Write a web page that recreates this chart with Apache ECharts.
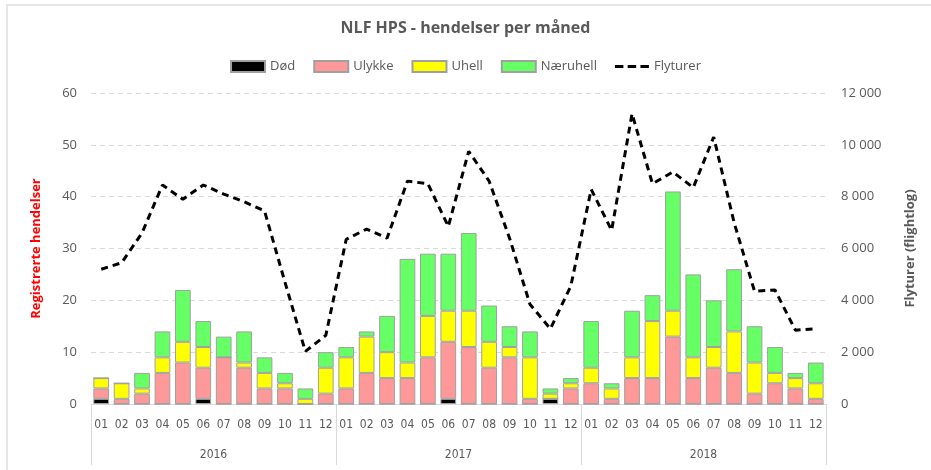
<!DOCTYPE html>
<html lang="no">
<head>
    <meta charset="UTF-8">
    <title>NLF HPS - hendelser per måned</title>
    <script src="https://cdn.jsdelivr.net/npm/echarts@6.0.0/dist/echarts.min.js"></script>
    <style>
        body { margin: 0; background: #fff; overflow: hidden; }
        #frame {
            position: absolute; left: 6px; top: 4px;
            width: 1000px; height: 600px;
            border-left: 2px solid #e6e6e6; border-top: 2px solid #e6e6e6;
        }
        #chart { position: absolute; left: 0; top: 0; width: 931px; height: 470px; }
    </style>
</head>
<body>
    <div id="frame"></div>
    <div id="chart"></div>
    <script>
        // kategorier
        var months = ['01', '02', '03', '04', '05', '06', '07', '08', '09', '10', '11', '12',
                      '01', '02', '03', '04', '05', '06', '07', '08', '09', '10', '11', '12',
                      '01', '02', '03', '04', '05', '06', '07', '08', '09', '10', '11', '12'];
        var years = ['2016', '2017', '2018'];

        // hendelser per måned
        var dod = [1, 0, 0, 0, 0, 1, 0, 0, 0, 0, 0, 0,
                   0, 0, 0, 0, 0, 1, 0, 0, 0, 0, 1, 0,
                   0, 0, 0, 0, 0, 0, 0, 0, 0, 0, 0, 0];
        var ulykke = [2, 1, 2, 6, 8, 6, 9, 7, 3, 3, 0, 2,
                      3, 6, 5, 5, 9, 11, 11, 7, 9, 1, 0, 3,
                      4, 1, 5, 5, 13, 5, 7, 6, 2, 4, 3, 1];
        var uhell = [2, 3, 1, 3, 4, 4, 0, 1, 3, 1, 1, 5,
                     6, 7, 5, 3, 8, 6, 7, 5, 2, 8, 1, 1,
                     3, 2, 4, 11, 5, 4, 4, 8, 6, 2, 2, 3];
        var naeruhell = [0, 0, 3, 5, 10, 5, 4, 6, 3, 2, 2, 3,
                         2, 1, 7, 20, 12, 11, 15, 7, 4, 5, 1, 1,
                         9, 1, 9, 5, 23, 16, 9, 12, 7, 5, 1, 4];

        // flyturer (flightlog)
        var flyturer = [5200, 5450, 6600, 8450, 7900, 8450, 8100, 7800, 7450, 4700, 2030, 2650,
                        6350, 6750, 6400, 8600, 8500, 6850, 9750, 8600, 6400, 3850, 2900, 4550,
                        8280, 6700, 11200, 8500, 8950, 8350, 10300, 7000, 4350, 4400, 2850, 2900];

        var grey = '#595959';
        var font = "'Open Sans', 'Liberation Sans', sans-serif";
        var narrow = "'Liberation Sans Narrow', 'DejaVu Sans Condensed', sans-serif";

        function barSeries(name, data, color) {
            return {
                name: name,
                type: 'bar',
                stack: 'hendelser',
                data: data,
                barCategoryGap: '23%',
                itemStyle: { color: color, borderColor: '#a0a0a0', borderWidth: 1 }
            };
        }

        var chart = echarts.init(document.getElementById('chart'));
        chart.setOption({
            animation: false,
            textStyle: { fontFamily: font },
            title: {
                text: 'NLF HPS - hendelser per måned',
                left: 'center',
                top: 15,
                textStyle: { fontSize: 16, fontWeight: 'bold', color: grey, fontFamily: font }
            },
            legend: {
                top: 55,
                left: 'center',
                itemWidth: 34,
                itemHeight: 11,
                itemGap: 18,
                textStyle: { fontSize: 13, color: grey },
                data: [
                    { name: 'Død', icon: 'rect' },
                    { name: 'Ulykke', icon: 'rect' },
                    { name: 'Uhell', icon: 'rect' },
                    { name: 'Næruhell', icon: 'rect' },
                    { name: 'Flyturer', icon: 'path://M0,0h8v3h-8z M12,0h8v3h-8z M24,0h8v3h-8z',
                      itemStyle: { color: '#000000', borderWidth: 0 } }
                ]
            },
            grid: { left: 91, right: 105, top: 93, bottom: 66 },
            xAxis: [
                {
                    type: 'category',
                    data: months,
                    axisLine: { lineStyle: { color: '#d9d9d9' } },
                    axisTick: { show: false },
                    axisLabel: { interval: 0, margin: 15, fontSize: 12, color: grey, fontFamily: narrow }
                },
                {
                    type: 'category',
                    data: years,
                    position: 'bottom',
                    axisLine: { show: false },
                    axisTick: { show: true, length: 61, interval: 0, lineStyle: { color: '#d9d9d9' } },
                    axisLabel: { margin: 45, fontSize: 12, color: grey, fontFamily: narrow }
                }
            ],
            yAxis: [
                {
                    type: 'value',
                    min: 0, max: 60, interval: 10,
                    name: 'Registrerte hendelser',
                    nameLocation: 'middle',
                    nameGap: 48,
                    nameTextStyle: { color: '#ff0000', fontWeight: 'bold', fontSize: 13 },
                    axisLine: { show: false },
                    axisTick: { show: false },
                    axisLabel: { color: grey, fontSize: 13, margin: 14 },
                    splitLine: { lineStyle: { color: '#d9d9d9', type: [5, 4] } }
                },
                {
                    type: 'value',
                    min: 0, max: 12000, interval: 2000,
                    name: 'Flyturer (flightlog)',
                    nameLocation: 'middle',
                    nameGap: 78,
                    nameTextStyle: { color: grey, fontWeight: 'bold', fontSize: 13 },
                    axisLine: { show: false },
                    axisTick: { show: false },
                    splitLine: { show: false },
                    axisLabel: {
                        color: grey, fontSize: 13, margin: 15,
                        formatter: function (v) {
                            return String(v).replace(/\B(?=(\d{3})+(?!\d))/g, ' ');
                        }
                    }
                }
            ],
            series: [
                barSeries('Død', dod, '#000000'),
                barSeries('Ulykke', ulykke, '#ff9999'),
                barSeries('Uhell', uhell, '#ffff00'),
                barSeries('Næruhell', naeruhell, '#66ff66'),
                {
                    name: 'Flyturer',
                    type: 'line',
                    yAxisIndex: 1,
                    data: flyturer,
                    symbol: 'none',
                    lineStyle: { color: '#000000', width: 3, type: [7, 5] },
                    itemStyle: { color: '#000000' }
                }
            ]
        });
    </script>
</body>
</html>
